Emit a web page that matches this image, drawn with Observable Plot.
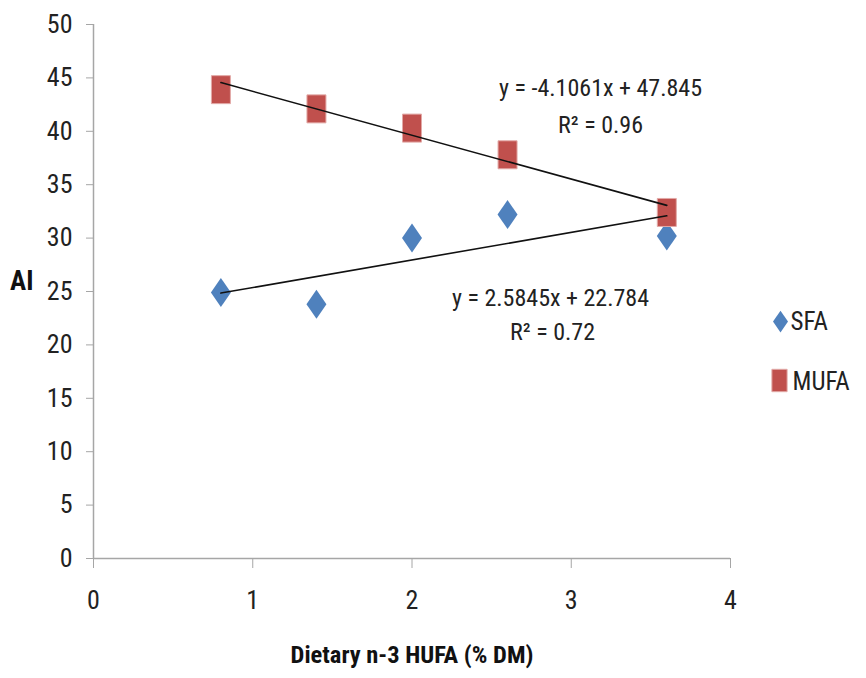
<!DOCTYPE html>
<html>
<head>
<meta charset="utf-8">
<script src="https://cdn.jsdelivr.net/npm/d3@7"></script>
<script src="https://cdn.jsdelivr.net/npm/@observablehq/plot@0.6"></script>
<style>
  html, body { margin: 0; padding: 0; background: #fff; }
  #chart { width: 866px; height: 678px; }
</style>
</head>
<body>
<div id="chart"></div>
<script>
const dietaryHUFA = [0.8, 1.4, 2.0, 2.6, 3.6];
const sfaValues = [24.9, 23.8, 30.0, 32.2, 30.2];
const mufaValues = [43.9, 42.1, 40.3, 37.8, 32.4];
const seriesNames = ["SFA", "MUFA"];
const sfaFit = {slope: 2.5845, intercept: 22.784, r2: "0.72"};
const mufaFit = {slope: -4.1061, intercept: 47.845, r2: "0.96"};
const xTicks = [0, 1, 2, 3, 4];
const yTicks = [0, 5, 10, 15, 20, 25, 30, 35, 40, 45, 50];

const FONT = '"Liberation Sans Narrow", "Roboto Condensed", "DejaVu Sans Condensed", "Arial Narrow", sans-serif';
const BLUE = "#4F81BD", RED = "#C0504D", AXIS = "#a6a6a6";

const tallSquare = {draw(ctx, size) {
  const r = Math.sqrt(size / Math.PI), w = 0.95 * r, h = 1.4 * r;
  ctx.moveTo(-w, -h); ctx.lineTo(w, -h); ctx.lineTo(w, h); ctx.lineTo(-w, h); ctx.closePath();
}};
const tallDiamond = {draw(ctx, size) {
  const r = Math.sqrt(size / Math.PI), w = r, h = 1.45 * r;
  ctx.moveTo(0, -h); ctx.lineTo(w, 0); ctx.lineTo(0, h); ctx.lineTo(-w, 0); ctx.closePath();
}};

const sfaData = dietaryHUFA.map((x, i) => ({x, y: sfaValues[i]}));
const mufaData = dietaryHUFA.map((x, i) => ({x, y: mufaValues[i]}));
const xMin = d3.min(dietaryHUFA), xMax = d3.max(dietaryHUFA);
const fitLine = f => [xMin, xMax].map(x => ({x, y: f.slope * x + f.intercept}));
const eq = f => `y = ${f.slope}x + ${f.intercept}`;

const plot = Plot.plot({
  width: 866,
  height: 678,
  marginLeft: 93,
  marginRight: 136,
  marginTop: 24,
  marginBottom: 120,
  style: {fontFamily: FONT, fontSize: "26px", background: "#fff", overflow: "visible"},
  x: {domain: [0, 4]},
  y: {domain: [0, 50]},
  marks: [
    Plot.axisY({ticks: yTicks, tickFormat: d => String(d), tickSize: 7, tickPadding: 14, stroke: AXIS, fill: "#222", fontSize: 26, label: null}),
    Plot.axisX({ticks: xTicks, tickFormat: d => String(d), tickSize: 10, tickPadding: 22, stroke: AXIS, fill: "#222", fontSize: 26, label: null}),
    Plot.ruleX([0], {stroke: AXIS, strokeWidth: 1.5}),
    Plot.ruleY([0], {stroke: AXIS, strokeWidth: 1.5}),
    Plot.dot(sfaData, {x: "x", y: "y", r: 10, symbol: tallDiamond, fill: BLUE, stroke: "none"}),
    Plot.dot(mufaData, {x: "x", y: "y", r: 10, symbol: tallSquare, fill: RED, stroke: "#e2a9a7", strokeWidth: 1}),
    Plot.line(fitLine(mufaFit), {x: "x", y: "y", stroke: "#111", strokeWidth: 1.6}),
    Plot.line(fitLine(sfaFit), {x: "x", y: "y", stroke: "#111", strokeWidth: 1.6}),
    Plot.text([eq(mufaFit)], {frameAnchor: "top-left", dx: 507, dy: 64, fontSize: 24, fill: "#222", textAnchor: "middle", lineAnchor: "middle"}),
    Plot.text([`R² = ${mufaFit.r2}`], {frameAnchor: "top-left", dx: 507, dy: 101, fontSize: 24, fill: "#222", textAnchor: "middle", lineAnchor: "middle"}),
    Plot.text([eq(sfaFit)], {frameAnchor: "top-left", dx: 457, dy: 274, fontSize: 24, fill: "#222", textAnchor: "middle", lineAnchor: "middle"}),
    Plot.text([`R² = ${sfaFit.r2}`], {frameAnchor: "top-left", dx: 459, dy: 308, fontSize: 24, fill: "#222", textAnchor: "middle", lineAnchor: "middle"}),
    Plot.text(["Dietary n-3 HUFA (% DM)"], {frameAnchor: "bottom", dy: 97, fontSize: 24.5, fontWeight: "bold", fill: "#111", lineAnchor: "middle"}),
    Plot.text(["AI"], {frameAnchor: "left", dx: -60, dy: -10, fontSize: 27, fontWeight: "bold", fill: "#111", textAnchor: "end", lineAnchor: "middle"}),
    Plot.dot([seriesNames[0]], {frameAnchor: "right", dx: 50, dy: 30, r: 7.5, symbol: tallDiamond, fill: BLUE, stroke: "none"}),
    Plot.dot([seriesNames[1]], {frameAnchor: "right", dx: 49, dy: 89, r: 8, symbol: tallSquare, fill: RED, stroke: "#e2a9a7", strokeWidth: 1}),
    Plot.text([seriesNames[0]], {frameAnchor: "right", dx: 60, dy: 30, fontSize: 25, fill: "#222", textAnchor: "start", lineAnchor: "middle"}),
    Plot.text([seriesNames[1]], {frameAnchor: "right", dx: 62, dy: 90, fontSize: 25, fill: "#222", textAnchor: "start", lineAnchor: "middle"})
  ]
});
document.getElementById("chart").appendChild(plot);
</script>
</body>
</html>
